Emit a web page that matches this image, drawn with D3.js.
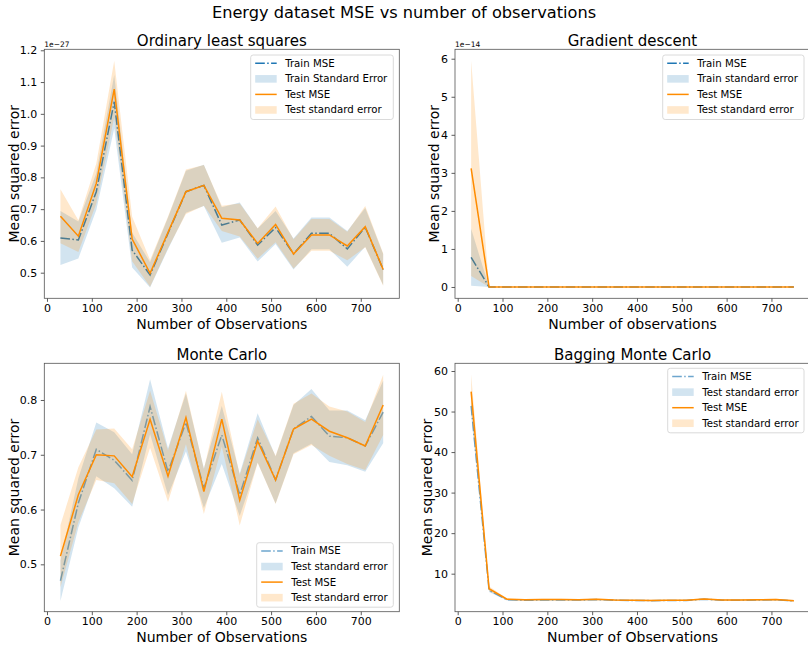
<!DOCTYPE html>
<html>
<head>
<meta charset="utf-8">
<script src="https://cdn.jsdelivr.net/npm/d3@7"></script>
<style>
  body { margin: 0; background: #fff; }
  svg { font-family: "DejaVu Sans", sans-serif; }
</style>
</head>
<body>
<svg width="808" height="645"></svg>
<script>
// number of observations (same for every panel)
var obs = [30, 70, 110, 150, 190, 230, 270, 310, 350, 390, 430, 470, 510, 550, 590, 630, 670, 710, 750];
var xTicks = [0, 100, 200, 300, 400, 500, 600, 700];

// Ordinary least squares (x 1e-27)
var olsTrainMse = [0.609, 0.603, 0.755, 1.038, 0.571, 0.493, 0.624, 0.755, 0.775, 0.650, 0.666, 0.587, 0.642, 0.559, 0.624, 0.624, 0.575, 0.643, 0.510];
var olsTrainSe  = [0.085, 0.058, 0.058, 0.084, 0.055, 0.040, 0.050, 0.066, 0.065, 0.056, 0.055, 0.052, 0.052, 0.049, 0.050, 0.050, 0.056, 0.061, 0.049];
var olsTestMse  = [0.678, 0.615, 0.781, 1.078, 0.606, 0.498, 0.627, 0.755, 0.775, 0.671, 0.666, 0.592, 0.652, 0.559, 0.619, 0.619, 0.584, 0.645, 0.510];
var olsTestSe   = [0.085, 0.050, 0.063, 0.089, 0.070, 0.042, 0.050, 0.070, 0.064, 0.040, 0.052, 0.048, 0.056, 0.046, 0.050, 0.050, 0.045, 0.065, 0.051];

// Gradient descent (x 1e-14)
var gdTrainMse = [0.78, 0, 0, 0, 0, 0, 0, 0, 0, 0, 0, 0, 0, 0, 0, 0, 0, 0, 0];
var gdTrainSe  = [0.75, 0, 0, 0, 0, 0, 0, 0, 0, 0, 0, 0, 0, 0, 0, 0, 0, 0, 0];
var gdTestMse  = [3.12, 0, 0, 0, 0, 0, 0, 0, 0, 0, 0, 0, 0, 0, 0, 0, 0, 0, 0];
var gdTestSe   = [2.83, 0, 0, 0, 0, 0, 0, 0, 0, 0, 0, 0, 0, 0, 0, 0, 0, 0, 0];

// Monte Carlo
var mcTrainMse = [0.470, 0.612, 0.710, 0.690, 0.653, 0.788, 0.669, 0.759, 0.639, 0.736, 0.627, 0.731, 0.654, 0.747, 0.770, 0.734, 0.731, 0.716, 0.778];
var mcTrainSe  = [0.037, 0.045, 0.049, 0.051, 0.048, 0.050, 0.043, 0.053, 0.036, 0.053, 0.039, 0.045, 0.043, 0.044, 0.050, 0.047, 0.050, 0.047, 0.057];
var mcTestMse  = [0.515, 0.627, 0.700, 0.698, 0.660, 0.765, 0.661, 0.768, 0.633, 0.765, 0.617, 0.725, 0.654, 0.747, 0.765, 0.743, 0.731, 0.716, 0.791];
var mcTestSe   = [0.057, 0.050, 0.046, 0.050, 0.050, 0.052, 0.047, 0.049, 0.041, 0.050, 0.046, 0.040, 0.044, 0.046, 0.047, 0.045, 0.048, 0.044, 0.055];

// Bagging Monte Carlo
var bmcTrainMse = [51.4, 5.9, 3.55, 3.45, 3.5, 3.55, 3.5, 3.6, 3.45, 3.4, 3.35, 3.4, 3.4, 3.7, 3.45, 3.45, 3.5, 3.55, 3.3];
var bmcTrainSe  = [2.2, 0.4, 0.15, 0.15, 0.15, 0.15, 0.15, 0.15, 0.15, 0.15, 0.15, 0.15, 0.15, 0.15, 0.15, 0.15, 0.15, 0.15, 0.15];
var bmcTestMse  = [54.9, 6.3, 3.7, 3.55, 3.6, 3.6, 3.55, 3.7, 3.5, 3.45, 3.4, 3.45, 3.45, 3.75, 3.5, 3.5, 3.55, 3.6, 3.35];
var bmcTestSe   = [4.3, 0.6, 0.2, 0.2, 0.2, 0.2, 0.2, 0.2, 0.2, 0.2, 0.2, 0.2, 0.2, 0.2, 0.2, 0.2, 0.2, 0.2, 0.2];

var blue = "#1f77b4", orange = "#ff8c00";

var svg = d3.select("svg");

svg.append("text")
    .attr("x", 404).attr("y", 18)
    .attr("text-anchor", "middle")
    .attr("font-size", 16.2)
    .text("Energy dataset MSE vs number of observations");

var panels = [
    {left: 44.3, right: 399.3, top: 49.3, bottom: 298.3, yDomain: [0.4194, 1.2031],
     yTicks: [0.5, 0.6, 0.7, 0.8, 0.9, 1.0, 1.1, 1.2], yFmt: d3.format(".1f"),
     title: "Ordinary least squares", xLabel: "Number of Observations", yLabelX: 14, offset: "1e\u221227",
     trainMse: olsTrainMse, trainSe: olsTrainSe, testMse: olsTestMse, testSe: olsTestSe, trainAlpha: 1,
     legend: {x: 250.7, y: 55, w: 142.6, labels: ["Train MSE", "Train Standard Error", "Test MSE", "Test standard error"]}},
    {left: 455, right: 810, top: 49.3, bottom: 298.3, yDomain: [-0.2975, 6.2475],
     yTicks: [0, 1, 2, 3, 4, 5, 6], yFmt: d3.format("d"),
     title: "Gradient descent", xLabel: "Number of observations", yLabelX: 434, offset: "1e\u221214",
     trainMse: gdTrainMse, trainSe: gdTrainSe, testMse: gdTestMse, testSe: gdTestSe, trainAlpha: 1,
     legend: {x: 662.7, y: 55, w: 141.3, labels: ["Train MSE", "Train standard error", "Test MSE", "Test standard error"]}},
    {left: 44.3, right: 399.3, top: 363.3, bottom: 611.7, yDomain: [0.4135, 0.867],
     yTicks: [0.5, 0.6, 0.7, 0.8], yFmt: d3.format(".1f"),
     title: "Monte Carlo", xLabel: "Number of Observations", yLabelX: 14, offset: null,
     trainMse: mcTrainMse, trainSe: mcTrainSe, testMse: mcTestMse, testSe: mcTestSe, trainAlpha: 0.65,
     legend: {x: 256.7, y: 542.7, w: 136.6, labels: ["Train MSE", "Test standard error", "Test MSE", "Test standard error"]}},
    {left: 455, right: 810, top: 363.3, bottom: 611.7, yDomain: [0.62, 61.9],
     yTicks: [10, 20, 30, 40, 50, 60], yFmt: d3.format("d"),
     title: "Bagging Monte Carlo", xLabel: "Number of Observations", yLabelX: 427, offset: null,
     trainMse: bmcTrainMse, trainSe: bmcTrainSe, testMse: bmcTestMse, testSe: bmcTestSe, trainAlpha: 0.65,
     legend: {x: 667.7, y: 368.3, w: 136.3, labels: ["Train MSE", "Test standard error", "Test MSE", "Test standard error"]}}
];

panels.forEach(function (p) {
    var x = d3.scaleLinear().domain([-6, 786]).range([p.left, p.right]);
    var y = d3.scaleLinear().domain(p.yDomain).range([p.bottom, p.top]);
    var g = svg.append("g");

    var clipId = "clip" + Math.round(p.left) + Math.round(p.top);
    svg.append("clipPath").attr("id", clipId)
        .append("rect").attr("x", p.left).attr("y", p.top)
        .attr("width", p.right - p.left).attr("height", p.bottom - p.top);
    var plot = g.append("g").attr("clip-path", "url(#" + clipId + ")");

    var line = function (vals) {
        return d3.line().x(function (d, i) { return x(obs[i]); }).y(function (d) { return y(d); })(vals);
    };
    var band = function (mse, se) {
        return d3.area()
            .x(function (d, i) { return x(obs[i]); })
            .y0(function (d, i) { return y(d - se[i]); })
            .y1(function (d, i) { return y(d + se[i]); })(mse);
    };

    plot.append("path").attr("d", line(p.trainMse))
        .attr("fill", "none").attr("stroke", blue).attr("stroke-width", 1.5)
        .attr("stroke-opacity", p.trainAlpha)
        .attr("stroke-dasharray", "9.6,2.4,1.5,2.4");
    plot.append("path").attr("d", band(p.trainMse, p.trainSe))
        .attr("fill", blue).attr("fill-opacity", 0.2);
    plot.append("path").attr("d", line(p.testMse))
        .attr("fill", "none").attr("stroke", orange).attr("stroke-width", 1.5);
    plot.append("path").attr("d", band(p.testMse, p.testSe))
        .attr("fill", orange).attr("fill-opacity", 0.2);

    // axes
    var xAxis = g.append("g").attr("transform", "translate(0," + p.bottom + ")")
        .call(d3.axisBottom(x).tickValues(xTicks).tickSize(3.5).tickPadding(2.5));
    var yAxis = g.append("g").attr("transform", "translate(" + p.left + ",0)")
        .call(d3.axisLeft(y).tickValues(p.yTicks).tickFormat(p.yFmt).tickSize(3.5).tickPadding(3.5));
    [xAxis, yAxis].forEach(function (a) {
        a.select(".domain").remove();
        a.selectAll("line").attr("stroke", "#333").attr("stroke-width", 0.8);
        a.selectAll("text").attr("font-size", 11).attr("fill", "#000")
            .attr("font-family", "DejaVu Sans, sans-serif");
    });

    g.append("rect")
        .attr("x", p.left).attr("y", p.top)
        .attr("width", p.right - p.left).attr("height", p.bottom - p.top)
        .attr("fill", "none").attr("stroke", "#555").attr("stroke-width", 0.8);

    g.append("text")
        .attr("x", (p.left + p.right) / 2).attr("y", p.top - 3)
        .attr("text-anchor", "middle").attr("font-size", 15)
        .text(p.title);

    g.append("text")
        .attr("x", (p.left + p.right) / 2).attr("y", p.bottom + 30.5)
        .attr("text-anchor", "middle").attr("font-size", 14)
        .text(p.xLabel);

    g.append("text")
        .attr("transform", "translate(" + p.yLabelX + "," + ((p.top + p.bottom) / 2) + ") rotate(-90)")
        .attr("text-anchor", "middle").attr("dominant-baseline", "central")
        .attr("font-size", 14)
        .text("Mean squared error");

    if (p.offset) {
        g.append("text")
            .attr("x", p.left).attr("y", p.top - 2.5)
            .attr("font-size", 7.5)
            .text(p.offset);
    }

    // legend
    var L = p.legend;
    var lg = g.append("g").attr("transform", "translate(" + L.x + "," + L.y + ")");
    lg.append("rect")
        .attr("width", L.w).attr("height", 64.5).attr("rx", 2.5)
        .attr("fill", "#fff").attr("fill-opacity", 0.8)
        .attr("stroke", "#d0d0d0").attr("stroke-width", 0.8);
    L.labels.forEach(function (lab, i) {
        var cy = 8.3 + i * 15.55;
        if (i === 0) {
            lg.append("line").attr("x1", 4.5).attr("x2", 26).attr("y1", cy).attr("y2", cy)
                .attr("stroke", blue).attr("stroke-width", 1.5).attr("stroke-opacity", p.trainAlpha)
                .attr("stroke-dasharray", "9.6,2.4,1.5,2.4");
        } else if (i === 2) {
            lg.append("line").attr("x1", 4.5).attr("x2", 26).attr("y1", cy).attr("y2", cy)
                .attr("stroke", orange).attr("stroke-width", 1.5);
        } else {
            lg.append("rect").attr("x", 4.5).attr("y", cy - 3.8).attr("width", 21.5).attr("height", 7.6)
                .attr("fill", i === 1 ? blue : orange).attr("fill-opacity", 0.2);
        }
        lg.append("text").attr("x", 34.5).attr("y", cy)
            .attr("dominant-baseline", "central").attr("font-size", 10.2)
            .text(lab);
    });
});
</script>
</body>
</html>
